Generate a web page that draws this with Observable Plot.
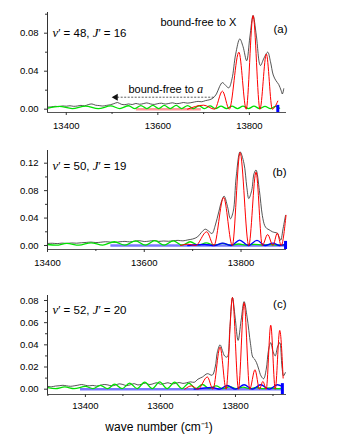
<!DOCTYPE html>
<html>
<head>
<meta charset="utf-8">
<script src="https://cdn.jsdelivr.net/npm/d3@7"></script>
<script src="https://cdn.jsdelivr.net/npm/@observablehq/plot@0.6"></script>
<style>
  body { margin: 0; background: #fff; }
  #chart { width: 340px; }
  #chart svg { display: block; }
</style>
</head>
<body>
<div id="chart"></div>
<script>
// ---------- Panel (a): v' = 48, J' = 16 ----------
const expA = [
  [13360,0.0022],[13368,0.0025],[13376,0.0030],[13384,0.0027],[13392,0.0034],[13400,0.0031],
  [13408,0.0036],[13416,0.0030],[13424,0.0033],[13432,0.0040],[13440,0.0035],[13448,0.0048],
  [13456,0.0055],[13464,0.0042],[13472,0.0038],[13480,0.0033],[13488,0.0040],[13496,0.0046],
  [13504,0.0058],[13512,0.0070],[13520,0.0052],[13528,0.0047],[13536,0.0055],[13544,0.0049],
  [13552,0.0060],[13560,0.0052],[13568,0.0058],[13576,0.0066],[13584,0.0055],[13592,0.0050],
  [13600,0.0058],[13608,0.0063],[13616,0.0054],[13624,0.0060],[13632,0.0067],[13640,0.0058],
  [13648,0.0062],[13656,0.0070],[13664,0.0064],[13672,0.0068],[13680,0.0076],[13688,0.0082],
  [13696,0.0078],[13704,0.0090],[13712,0.0098],[13720,0.0115],[13728,0.0160],[13735,0.0240],
  [13741,0.0280],[13748,0.0250],[13755,0.0225],[13762,0.0320],[13770,0.0580],[13779,0.0740],
  [13786,0.0660],[13794,0.0510],[13801,0.0760],[13808,0.0986],[13815,0.0780],[13824,0.0460],
  [13832,0.0540],[13840,0.0600],[13846,0.0500],[13852,0.0360],[13858,0.0300],[13864,0.0260],
  [13869,0.0200],[13872,0.0160],[13875,0.0215]
];
const xCalcA = [
  [13665,0.0000],[13700,0.0042],[13724,0.0000],[13741,0.0190],[13756,0.0000],[13777,0.0600],
  [13793,0.0000],[13808,0.0986],[13823,0.0000],[13837,0.0580],[13850,0.0000],[13862,0.0085]
];
const aCalcA = [
  [13360,0.0010],[13385,0.0030],[13413,0.0006],[13442,0.0032],[13470,0.0006],[13497,0.0034],
  [13517,0.0006],[13536,0.0036],[13550,0.0006],[13563,0.0038],[13576,0.0006],[13589,0.0040],
  [13602,0.0006],[13614,0.0040],[13627,0.0006],[13640,0.0040],[13652,0.0006],[13665,0.0038],
  [13677,0.0006],[13690,0.0036],[13702,0.0006],[13714,0.0034],[13726,0.0006],[13738,0.0032],
  [13750,0.0006],[13762,0.0032],[13774,0.0006],[13786,0.0032],[13798,0.0006],[13810,0.0032],
  [13822,0.0006],[13834,0.0030],[13846,0.0006],[13857,0.0030],[13866,0.0010]
];
const spanA = [13553, 13695];
const barA = [13862, 0.004];
const arrowXA = [13722, 13508];
const arrowYA = 0.0126;

// ---------- Panel (b): v' = 50, J' = 19 ----------
const expB = [
  [13400,0.0030],[13410,0.0033],[13420,0.0028],[13430,0.0035],[13440,0.0031],[13450,0.0037],
  [13460,0.0034],[13470,0.0040],[13480,0.0045],[13490,0.0050],[13500,0.0043],[13510,0.0048],
  [13520,0.0055],[13530,0.0050],[13540,0.0046],[13550,0.0055],[13560,0.0060],[13570,0.0053],
  [13580,0.0062],[13590,0.0070],[13600,0.0058],[13610,0.0064],[13620,0.0072],[13630,0.0060],
  [13640,0.0066],[13650,0.0062],[13660,0.0070],[13670,0.0075],[13680,0.0068],[13690,0.0082],
  [13700,0.0095],[13710,0.0125],[13718,0.0190],[13726,0.0238],[13733,0.0210],[13740,0.0175],
  [13747,0.0300],[13754,0.0490],[13760,0.0650],[13765,0.0720],[13772,0.0570],[13778,0.0390],
  [13784,0.0500],[13790,0.1000],[13798,0.1366],[13806,0.1200],[13812,0.0850],[13816,0.0685],
  [13822,0.0800],[13827,0.1050],[13831,0.1100],[13838,0.0800],[13844,0.0440],[13849,0.0290],
  [13853,0.0250],[13858,0.0230],[13865,0.0200],[13870,0.0190],[13875,0.0180],[13879,0.0120],
  [13882,0.0077],[13887,0.0250],[13892,0.0440]
];
const xCalcB = [
  [13675,0.0000],[13690,0.0020],[13706,0.0000],[13729,0.0200],[13744,0.0000],[13764,0.0700],
  [13782,0.0000],[13798,0.1356],[13816,0.0000],[13831,0.1070],[13844,0.0000],[13855,0.0160],
  [13866,0.0000],[13875,0.0180],[13883,0.0000],[13893,0.0440]
];
const aCalcB = [
  [13400,0.0015],[13418,0.0005],[13440,0.0030],[13465,0.0005],[13490,0.0040],[13514,0.0005],
  [13538,0.0055],[13560,0.0005],[13582,0.0068],[13602,0.0005],[13622,0.0070],[13641,0.0005],
  [13660,0.0068],[13678,0.0005],[13695,0.0055],[13712,0.0005],[13728,0.0040],[13745,0.0005],
  [13762,0.0030],[13779,0.0005],[13795,0.0022],[13812,0.0005],[13828,0.0018],[13844,0.0005],
  [13860,0.0015],[13876,0.0005],[13893,0.0010]
];
const bCalcB = [
  [13690,0.0000],[13725,0.0015],[13745,0.0000],[13762,0.0035],[13780,0.0000],[13797,0.0080],
  [13815,0.0000],[13833,0.0075],[13850,0.0000],[13866,0.0035],[13880,0.0000],[13893,0.0020]
];
const spanB = [13531, 13893];
const barB = [13892, 0.006];

// ---------- Panel (c): v' = 52, J' = 20 ----------
const expC = [
  [13300,0.0025],[13310,0.0022],[13320,0.0028],[13330,0.0031],[13340,0.0035],[13350,0.0030],
  [13360,0.0026],[13370,0.0030],[13380,0.0036],[13390,0.0042],[13400,0.0035],[13410,0.0030],
  [13420,0.0034],[13430,0.0028],[13440,0.0036],[13450,0.0042],[13460,0.0038],[13470,0.0030],
  [13480,0.0037],[13490,0.0048],[13500,0.0042],[13510,0.0032],[13520,0.0040],[13530,0.0050],
  [13540,0.0038],[13550,0.0045],[13560,0.0055],[13570,0.0042],[13580,0.0048],[13590,0.0058],
  [13600,0.0045],[13610,0.0050],[13620,0.0058],[13630,0.0048],[13640,0.0052],[13650,0.0060],
  [13660,0.0052],[13670,0.0058],[13680,0.0066],[13690,0.0062],[13700,0.0090],[13712,0.0110],
  [13725,0.0140],[13738,0.0126],[13746,0.0200],[13752,0.0340],[13759,0.0400],[13765,0.0350],
  [13771,0.0300],[13778,0.0290],[13785,0.0550],[13792,0.0827],[13799,0.0650],[13807,0.0440],
  [13815,0.0620],[13823,0.0790],[13831,0.0650],[13840,0.0410],[13846,0.0290],[13850,0.0275],
  [13856,0.0240],[13862,0.0180],[13868,0.0120],[13875,0.0094],[13882,0.0180],[13888,0.0350],
  [13894,0.0420],[13900,0.0340],[13906,0.0300],[13912,0.0380],[13918,0.0420],[13924,0.0200],
  [13928,0.0120],[13933,0.0150]
];
const xCalcC = [
  [13665,0.0000],[13683,0.0030],[13700,0.0000],[13725,0.0110],[13740,0.0000],[13759,0.0380],
  [13775,0.0000],[13792,0.0827],[13808,0.0000],[13823,0.0780],[13838,0.0000],[13852,0.0175],
  [13864,0.0000],[13873,0.0070],[13882,0.0000],[13894,0.0577],[13906,0.0000],[13918,0.0530],
  [13927,0.0100]
];
const aCalcC = [
  [13300,0.0015],[13320,0.0005],[13345,0.0020],[13370,0.0005],[13400,0.0025],[13420,0.0005],
  [13440,0.0035],[13459,0.0005],[13478,0.0045],[13498,0.0005],[13518,0.0055],[13538,0.0005],
  [13558,0.0063],[13578,0.0005],[13598,0.0065],[13618,0.0005],[13638,0.0063],[13657,0.0005],
  [13676,0.0055],[13694,0.0005],[13712,0.0042],[13730,0.0005],[13748,0.0030],[13766,0.0005],
  [13784,0.0022],[13802,0.0005],[13820,0.0018],[13838,0.0005],[13856,0.0015],[13874,0.0005],
  [13892,0.0012],[13910,0.0005],[13925,0.0010]
];
const bCalcC = [
  [13690,0.0000],[13738,0.0015],[13758,0.0000],[13778,0.0033],[13800,0.0000],[13823,0.0040],
  [13845,0.0000],[13867,0.0040],[13890,0.0000],[13912,0.0040],[13925,0.0025]
];
const spanC = [13387, 13925];
const barC = [13925, 0.005];

// ---------- ticks ----------
const xMajor = [13400, 13600, 13800];
const xMinorAB = [13500, 13700];
const xMinorC = [13300, 13500, 13700, 13900];
const yMajorA = [0, 0.04, 0.08], yMinorA = [0.02, 0.06, 0.10];
const yMajorB = [0, 0.04, 0.08, 0.12], yMinorB = [0.02, 0.06, 0.10];
const yMajorC = [0, 0.02, 0.04, 0.06, 0.08], yMinorC = [0.01, 0.03, 0.05, 0.07];

const SANS = "'Liberation Sans', Arial, Helvetica, sans-serif";
const SERIF = "'Liberation Serif', 'Times New Roman', serif";

function panel(o) {
  const [x0, x1] = o.xDomain, [y0, y1] = o.yDomain;
  const marks = [];
  marks.push(Plot.ruleY([0], {x1: o.span[0], x2: o.span[1], stroke: o.spanColor, strokeWidth: 2.4}));
  marks.push(Plot.line(o.exp, {stroke: "#2a2a2a", strokeWidth: 0.8, curve: "catmull-rom"}));
  marks.push(Plot.line(o.green, {stroke: "#00e000", strokeWidth: 1.3, curve: "monotone-x"}));
  if (o.blue) marks.push(Plot.line(o.blue, {stroke: "#0000ff", strokeWidth: 1.3, curve: "monotone-x"}));
  marks.push(Plot.line(o.red, {stroke: "#ff0000", strokeWidth: 1, curve: "monotone-x"}));
  marks.push(Plot.ruleX([o.bar[0]], {y1: y0, y2: o.bar[1], stroke: "#0000ff", strokeWidth: 3}));
  if (o.arrowX) {
    marks.push(Plot.link([o.arrowX], {x1: d => d[0], x2: d => d[1], y1: () => o.arrowY, y2: () => o.arrowY,
      stroke: "#333", strokeWidth: 0.8, strokeDasharray: "2,1.5"}));
    marks.push(Plot.dot([o.arrowX], {x: d => d[1], y: () => o.arrowY, symbol: "triangle", rotate: -90,
      r: 2.6, fill: "#111", stroke: "none"}));
  }
  // frame (left & bottom)
  marks.push(Plot.ruleX([x0], {y1: y0, y2: y1, stroke: "#333", strokeWidth: 1}));
  marks.push(Plot.ruleY([y0], {x1: x0, x2: x1, stroke: "#555", strokeWidth: 1}));
  // axes
  marks.push(Plot.axisX({ticks: xMajor, tickSize: 3, tickPadding: o.xPad, fontSize: 9.5, tickFormat: d => String(d), stroke: "#333", label: null}));
  marks.push(Plot.axisX({ticks: o.xMinor, tickSize: 2, tickFormat: () => "", stroke: "#333", label: null}));
  marks.push(Plot.axisY({ticks: o.yMajor, tickSize: 3, tickPadding: 6, fontSize: 9.5, tickFormat: d => d.toFixed(2), stroke: "#333", label: null}));
  marks.push(Plot.axisY({ticks: o.yMinor, tickSize: 2, tickFormat: () => "", stroke: "#333", label: null}));
  for (const a of o.notes) {
    marks.push(Plot.text([a.text], {text: d => d, frameAnchor: a.anchor, dx: a.dx, dy: a.dy,
      textAnchor: a.ta, lineAnchor: "middle", fontSize: a.size, fill: "#000"}));
  }
  const svg = Plot.plot({
    width: 340, height: o.height,
    marginTop: o.mt, marginBottom: o.mb, marginLeft: 47, marginRight: 54,
    x: {domain: o.xDomain},
    y: {domain: o.yDomain},
    style: {fontFamily: SANS, fontSize: "9.5px", background: "#fff", color: "#000", overflow: "visible"},
    marks
  });
  // rich text: segments between * are italic serif
  svg.querySelectorAll("text").forEach(t => {
    const s = t.textContent;
    if (!s.includes("*")) return;
    const parts = s.split("*");
    t.textContent = "";
    parts.forEach((p, i) => {
      if (!p) return;
      const ts = document.createElementNS("http://www.w3.org/2000/svg", "tspan");
      ts.textContent = p;
      if (i % 2) {
        ts.setAttribute("font-family", SERIF);
        ts.setAttribute("font-style", "italic");
        ts.setAttribute("font-size", "1.12em");
      }
      t.appendChild(ts);
    });
  });
  return svg;
}

const chart = document.getElementById("chart");

chart.appendChild(panel({
  height: 140, mt: 12, mb: 28, xPad: 6.5,
  xDomain: [13359, 13881], yDomain: [-0.0035, 0.1018],
  exp: expA, red: xCalcA, green: aCalcA,
  span: spanA, spanColor: "#ff9a9a", bar: barA,
  arrowX: arrowXA, arrowY: arrowYA,
  xMinor: xMinorAB, yMajor: yMajorA, yMinor: yMinorA,
  notes: [
    {text: "*v*′ = 48, *J*′ = 16", anchor: "top-left", dx: 5, dy: 21, ta: "start", size: 11.5},
    {text: "(a)", anchor: "top-right", dx: 1, dy: 17, ta: "end", size: 11.5},
    {text: "bound-free to X", anchor: "top-left", dx: 113, dy: 10, ta: "start", size: 11},
    {text: "bound-free to *a*", anchor: "top-left", dx: 81, dy: 77, ta: "start", size: 11}
  ]
}));

chart.appendChild(panel({
  height: 140, mt: 10, mb: 31, xPad: 6.5,
  xDomain: [13400, 13894], yDomain: [-0.0058, 0.1385],
  exp: expB, red: xCalcB, green: aCalcB, blue: bCalcB,
  span: spanB, spanColor: "#7878ff", bar: barB,
  xMinor: xMinorAB, yMajor: yMajorB, yMinor: yMinorB,
  notes: [
    {text: "*v*′ = 50, *J*′ = 19", anchor: "top-left", dx: 5, dy: 16, ta: "start", size: 11.5},
    {text: "(b)", anchor: "top-right", dx: 0, dy: 22, ta: "end", size: 11.5}
  ]
}));

chart.appendChild(panel({
  height: 160, mt: 15, mb: 46, xPad: 5,
  xDomain: [13299, 13936], yDomain: [-0.0048, 0.0845],
  exp: expC, red: xCalcC, green: aCalcC, blue: bCalcC,
  span: spanC, spanColor: "#7878ff", bar: barC,
  xMinor: xMinorC, yMajor: yMajorC, yMinor: yMinorC,
  notes: [
    {text: "*v*′ = 52, *J*′ = 20", anchor: "top-left", dx: 5, dy: 15, ta: "start", size: 11.5},
    {text: "(c)", anchor: "top-right", dx: 0, dy: 9, ta: "end", size: 11.5},
    {text: "wave number (cm⁻¹)", anchor: "bottom", dx: -8, dy: 33, ta: "middle", size: 12}
  ]
}));
</script>
</body>
</html>
